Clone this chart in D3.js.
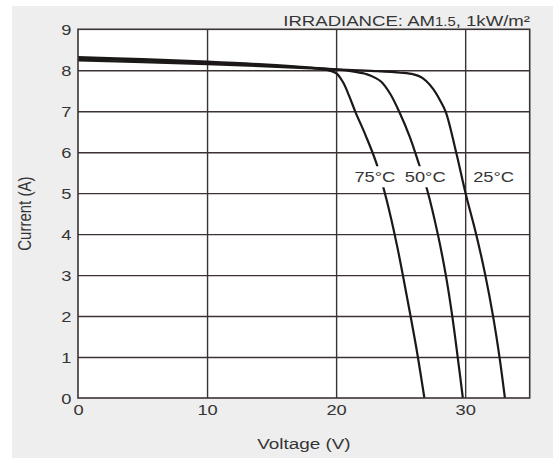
<!DOCTYPE html>
<html>
<head>
<meta charset="utf-8">
<script src="https://cdn.jsdelivr.net/npm/d3@7"></script>
<style>
  html, body { margin: 0; padding: 0; background: #ffffff; }
  svg { display: block; }
</style>
</head>
<body>
<svg id="chart" width="553" height="458"></svg>
<script>
// ---------------- data ----------------
const seriesNames = ["75°C", "50°C", "25°C"];

const voltage75 = [0, 5, 10, 15, 18, 19.5, 20.05, 20.55, 21.0, 21.5, 22.3, 23.1, 23.9, 24.7, 25.5, 26.2, 26.84];
const current75 = [8.32, 8.27, 8.21, 8.13, 8.06, 7.99, 7.92, 7.70, 7.38, 6.98, 6.40, 5.75, 4.85, 3.75, 2.45, 1.25, 0];

const voltage50 = [0, 5, 10, 15, 20, 21.5, 22.4, 23.0, 23.5, 24.2, 24.9, 25.7, 26.4, 27.1, 27.88, 28.5, 29.0, 29.42, 29.82];
const current50 = [8.28, 8.24, 8.18, 8.11, 8.02, 7.96, 7.90, 7.82, 7.72, 7.42, 6.98, 6.38, 5.73, 5.03, 4.00, 3.00, 2.00, 1.00, 0];

const voltage25 = [0, 5, 10, 15, 20, 23, 25, 26, 26.6, 27.0, 27.5, 28.05, 28.5, 29.3, 30.03, 30.85, 31.56, 32.16, 32.66, 33.08];
const current25 = [8.24, 8.20, 8.15, 8.09, 8.02, 7.98, 7.94, 7.90, 7.83, 7.73, 7.55, 7.27, 6.98, 6.00, 5.00, 4.00, 3.00, 2.00, 1.00, 0];

const xTicks = [0, 10, 20, 30];
const yTicks = [0, 1, 2, 3, 4, 5, 6, 7, 8, 9];
const xGrid = [10, 20, 30];
const yGrid = [1, 2, 3, 4, 5, 6, 7, 8];

const xTitle = "Voltage (V)";
const yTitle = "Current (A)";

// label anchor points (layout only)
const labelV = [23.0, 26.9, 32.2];
const labelI = 5.28;

// ---------------- layout ----------------
const svg = d3.select("#chart");
const FONT = "'Liberation Sans', Arial, Helvetica, sans-serif";
const TXT = "#353535";
const GRID = "#3b3232";
const SX = 1.22;

const x = d3.scaleLinear().domain([0, 35]).range([78, 529.7]);
const y = d3.scaleLinear().domain([0, 9]).range([398, 29.3]);

// backgrounds
svg.append("rect").attr("x", 12).attr("y", 6).attr("width", 553 - 12).attr("height", 458 - 6).attr("fill", "#eeeeee");
svg.append("rect")
  .attr("x", x(0)).attr("y", y(9))
  .attr("width", x(35) - x(0)).attr("height", y(0) - y(9))
  .attr("fill", "#ffffff");

// grid lines via axes
const plotH = y(0) - y(9);
const plotW = x(35) - x(0);

const gx = svg.append("g").attr("transform", `translate(0,${y(0)})`)
  .call(d3.axisBottom(x).tickValues(xGrid).tickSize(-plotH).tickFormat(""));
gx.select(".domain").remove();
gx.selectAll("line").attr("stroke", GRID).attr("stroke-width", 1.4);

const gy = svg.append("g").attr("transform", `translate(${x(0)},0)`)
  .call(d3.axisLeft(y).tickValues(yGrid).tickSize(-plotW).tickFormat(""));
gy.select(".domain").remove();
gy.selectAll("line").attr("stroke", GRID).attr("stroke-width", 1.4);

// curves
const line = d3.line().x(d => x(d[0])).y(d => y(d[1])).curve(d3.curveCatmullRom.alpha(0.5));
const series = [
  d3.zip(voltage75, current75),
  d3.zip(voltage50, current50),
  d3.zip(voltage25, current25)
];
svg.append("g").selectAll("path").data(series).join("path")
  .attr("d", line)
  .attr("fill", "none")
  .attr("stroke", "#1c1818")
  .attr("stroke-width", 2.2)
  .attr("stroke-linejoin", "round");

// border
svg.append("rect")
  .attr("x", x(0)).attr("y", y(9))
  .attr("width", plotW).attr("height", plotH)
  .attr("fill", "none").attr("stroke", GRID).attr("stroke-width", 1.6);

// x tick labels
const ax = svg.append("g").attr("transform", `translate(0,${y(0)})`)
  .call(d3.axisBottom(x).tickValues(xTicks).tickSize(0).tickFormat(d3.format("d")));
ax.select(".domain").remove();
ax.selectAll("text")
  .attr("y", 17).attr("dy", 0)
  .attr("transform", `scale(${SX},1)`)
  .attr("fill", TXT).style("font-family", FONT).style("font-size", "15px");

// y tick labels
const ay = svg.append("g").attr("transform", `translate(${x(0)},0)`)
  .call(d3.axisLeft(y).tickValues(yTicks).tickSize(0).tickFormat(d3.format("d")));
ay.select(".domain").remove();
ay.selectAll("text")
  .attr("x", -6.5 / SX).attr("dy", "0.36em")
  .attr("transform", `scale(${SX},1)`)
  .attr("fill", TXT).style("font-family", FONT).style("font-size", "15px");

// axis titles
svg.append("text")
  .attr("transform", `translate(${(x(0) + x(35)) / 2},449) scale(1.26,1)`)
  .attr("text-anchor", "middle")
  .attr("fill", TXT).style("font-family", FONT).style("font-size", "15px")
  .text(xTitle);

svg.append("text")
  .attr("transform", `translate(31,${(y(0) + y(9)) / 2}) rotate(-90) scale(1,1.2)`)
  .attr("text-anchor", "middle")
  .attr("fill", TXT).style("font-family", FONT).style("font-size", "15px")
  .text(yTitle);

// irradiance note
const note = svg.append("text")
  .attr("transform", `translate(530,26) scale(1.24,1)`)
  .attr("text-anchor", "end")
  .attr("fill", TXT).style("font-family", FONT).style("font-size", "15px");
note.append("tspan").text("IRRADIANCE:  AM");
note.append("tspan").style("font-size", "12px").text("1.5");
note.append("tspan").text(",  1kW/m²");

// temperature labels with white backing
seriesNames.forEach((name, i) => {
  const g = svg.append("g")
    .attr("transform", `translate(${x(labelV[i])},${y(labelI)}) scale(${SX},1)`);
  const r = g.append("rect").attr("fill", "#ffffff");
  const t = g.append("text")
    .attr("text-anchor", "middle")
    .attr("fill", TXT).style("font-family", FONT).style("font-size", "15px")
    .text(name);
  const b = t.node().getBBox();
  r.attr("x", b.x - 1).attr("y", b.y - 2).attr("width", b.width + 2).attr("height", b.height + 4);
});
</script>
</body>
</html>
